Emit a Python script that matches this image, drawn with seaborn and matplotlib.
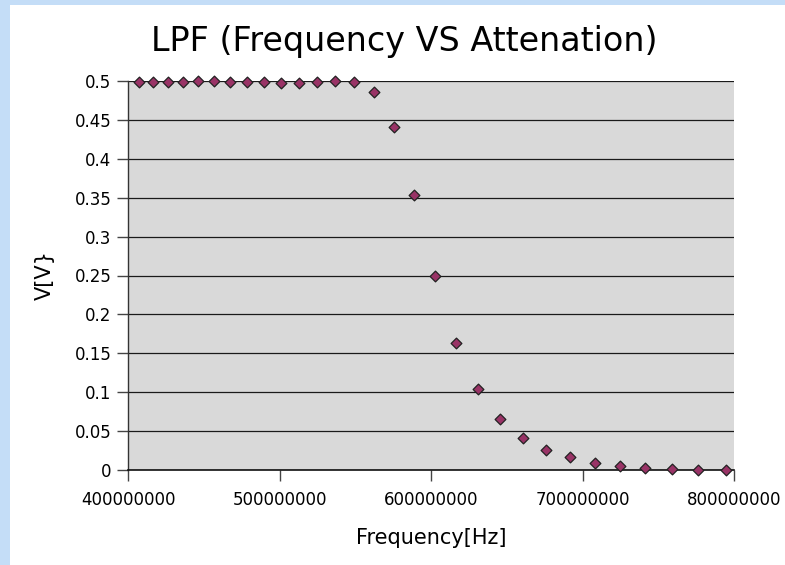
import matplotlib
matplotlib.use("Agg")
import matplotlib.pyplot as plt
import seaborn as sns
import pandas as pd
from matplotlib.patches import Rectangle

# Data
frequency_hz = [407.5e6, 416.7e6, 426.2e6, 436.1e6, 446.2e6, 456.8e6, 467.5e6,
                478.5e6, 489.6e6, 501.0e6, 512.7e6, 524.8e6, 536.8e6, 549.4e6,
                562.2e6, 575.4e6, 588.8e6, 602.6e6, 616.5e6, 631.0e6, 645.5e6,
                660.7e6, 675.9e6, 691.9e6, 708.0e6, 724.5e6, 741.4e6, 758.9e6,
                776.4e6, 794.5e6]
voltage_v = [0.499, 0.499, 0.499, 0.499, 0.5, 0.5, 0.499,
             0.499, 0.499, 0.498, 0.498, 0.499, 0.5, 0.499,
             0.4855, 0.441, 0.3535, 0.249, 0.163, 0.1037, 0.0656,
             0.0415, 0.0257, 0.0163, 0.0094, 0.0055, 0.003, 0.0012,
             0.0004, 0.0]
x_ticks = [400000000, 500000000, 600000000, 700000000, 800000000]
y_ticks = [0, 0.05, 0.1, 0.15, 0.2, 0.25, 0.3, 0.35, 0.4, 0.45, 0.5]
y_tick_labels = ["0", "0.05", "0.1", "0.15", "0.2", "0.25", "0.3", "0.35", "0.4", "0.45", "0.5"]

df = pd.DataFrame({"f": frequency_hz, "v": voltage_v})

sns.set_theme(style="white")
plt.rcParams["font.family"] = ["DejaVu Sans"]

W, H = 785, 565
fig = plt.figure(figsize=(W / 100, H / 100), dpi=100)
fig.patch.set_facecolor("#c4ddf7")
# white panel
fig.patches.append(Rectangle((10 / W, 0), 1 - 10 / W, 1 - 5 / H, transform=fig.transFigure,
                             facecolor="white", edgecolor="none", zorder=-5))

ax = fig.add_axes([128 / W, 1 - 470 / H, (734 - 128) / W, (470 - 81) / H])
ax.set_zorder(1)
ax.set_facecolor("#d9d9d9")

ax.set_axisbelow(True)
ax.grid(axis="y", color="#1a1a1a", linewidth=0.9)
ax.grid(axis="x", visible=False)

sns.scatterplot(data=df, x="f", y="v", ax=ax, marker="D", s=30,
                color="#993366", edgecolor="#222222", linewidth=0.9, zorder=3,
                clip_on=False, legend=False)

ax.set_xlim(400e6, 800e6)
ax.set_ylim(0, 0.5)
ax.set_xticks(x_ticks)
ax.set_xticklabels([str(t) for t in x_ticks])
ax.set_yticks(y_ticks)
ax.set_yticklabels(y_tick_labels)

for side in ["top", "right"]:
    ax.spines[side].set_visible(False)
ax.spines["left"].set_color("#333333")
ax.spines["left"].set_linewidth(1.0)
ax.spines["bottom"].set_color("#111111")
ax.spines["bottom"].set_linewidth(1.2)

ax.tick_params(axis="both", which="major", direction="out", length=8, width=1.0,
               color="#444444", labelsize=12, labelcolor="black",
               bottom=True, left=True)
ax.tick_params(axis="x", pad=7)
ax.tick_params(axis="y", pad=4)

ax.set_xlabel("Frequency[Hz]", fontsize=15, color="black", labelpad=14)
ax.set_ylabel("V[V}", fontsize=15, color="black", labelpad=14)
fig.text(404 / W, 1 - 41 / H, "LPF (Frequency VS Attenation)", fontsize=24,
         ha="center", va="center", color="black")

fig.savefig("out.png", dpi=100, facecolor=fig.get_facecolor())
